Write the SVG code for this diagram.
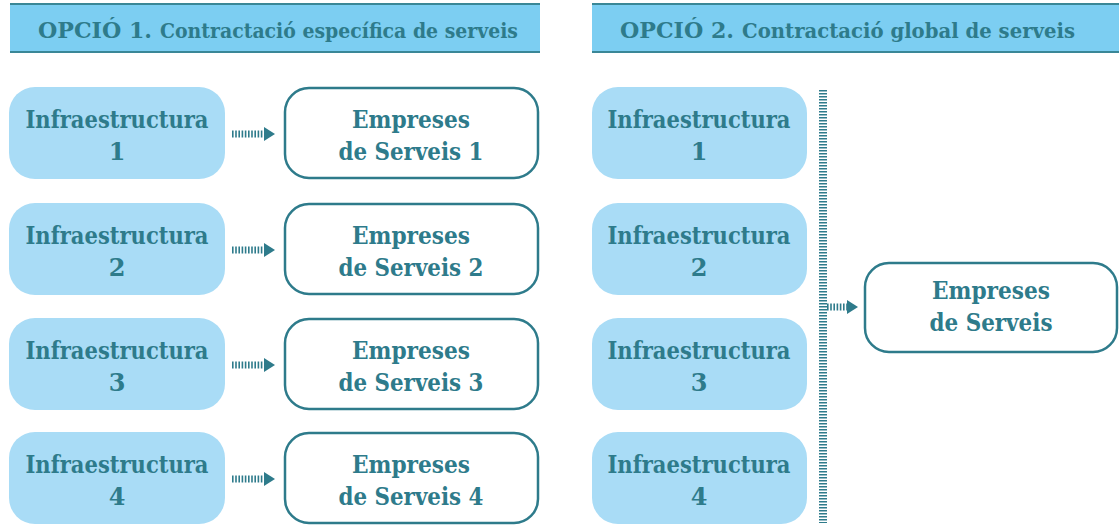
<svg xmlns="http://www.w3.org/2000/svg" width="1119" height="525" viewBox="0 0 1119 525">
<style>
.hdr{fill:#7ccef2;}
.hline{stroke:#3a8797;stroke-width:2;}
.t{font-family:"DejaVu Serif","Liberation Serif",serif;font-weight:bold;fill:#2e7b8b;text-anchor:middle;}
.h{font-family:"DejaVu Serif","Liberation Serif",serif;font-weight:bold;fill:#2e7b8b;}
.lbl{font-size:24px;}
.infra{fill:#a9dcf6;}
.emp{fill:#ffffff;stroke:#2e7b8b;stroke-width:2.5;}
.dots{stroke:#2e7b8b;stroke-width:7;stroke-dasharray:1.6 1.6;fill:none;}
.vdots{stroke:#2e7b8b;stroke-width:8;stroke-dasharray:1.5 1.5;fill:none;}
.head{fill:#2e7b8b;}
</style>
<g id="header1">
<rect class="hdr" x="10" y="4" width="530" height="48"/>
<line class="hline" x1="10" y1="4" x2="540" y2="4"/>
<line class="hline" x1="10" y1="52" x2="540" y2="52"/>
<text class="h" x="38" y="38" font-size="23" textLength="114" lengthAdjust="spacingAndGlyphs">OPCIÓ 1.</text>
<text class="h" x="160" y="38" font-size="19.5" textLength="358" lengthAdjust="spacingAndGlyphs">Contractació específica de serveis</text>
</g>
<g id="header2">
<rect class="hdr" x="592" y="4" width="527" height="48"/>
<line class="hline" x1="592" y1="4" x2="1119" y2="4"/>
<line class="hline" x1="592" y1="52" x2="1119" y2="52"/>
<text class="h" x="620" y="38" font-size="23" textLength="114" lengthAdjust="spacingAndGlyphs">OPCIÓ 2.</text>
<text class="h" x="742" y="38" font-size="19.5" textLength="333" lengthAdjust="spacingAndGlyphs">Contractació global de serveis</text>
</g>
<g id="infra1-1"><rect class="infra" x="9" y="87" width="216" height="92" rx="26"/><text class="t lbl" x="117" y="128" textLength="183" lengthAdjust="spacingAndGlyphs">Infraestructura</text><text class="t lbl" x="117" y="160">1</text></g>
<g id="infra1-2"><rect class="infra" x="9" y="203" width="216" height="92" rx="26"/><text class="t lbl" x="117" y="244" textLength="183" lengthAdjust="spacingAndGlyphs">Infraestructura</text><text class="t lbl" x="117" y="276">2</text></g>
<g id="infra1-3"><rect class="infra" x="9" y="318" width="216" height="92" rx="26"/><text class="t lbl" x="117" y="359" textLength="183" lengthAdjust="spacingAndGlyphs">Infraestructura</text><text class="t lbl" x="117" y="391">3</text></g>
<g id="infra1-4"><rect class="infra" x="9" y="432" width="216" height="92" rx="26"/><text class="t lbl" x="117" y="473" textLength="183" lengthAdjust="spacingAndGlyphs">Infraestructura</text><text class="t lbl" x="117" y="505">4</text></g>
<g id="emp1"><rect class="emp" x="285" y="88" width="253" height="90" rx="24"/><text class="t lbl" x="411" y="128" textLength="118" lengthAdjust="spacingAndGlyphs">Empreses</text><text class="t lbl" x="411" y="160" textLength="145" lengthAdjust="spacingAndGlyphs">de Serveis 1</text></g>
<g id="emp2"><rect class="emp" x="285" y="204" width="253" height="90" rx="24"/><text class="t lbl" x="411" y="244" textLength="118" lengthAdjust="spacingAndGlyphs">Empreses</text><text class="t lbl" x="411" y="276" textLength="145" lengthAdjust="spacingAndGlyphs">de Serveis 2</text></g>
<g id="emp3"><rect class="emp" x="285" y="319" width="253" height="90" rx="24"/><text class="t lbl" x="411" y="359" textLength="118" lengthAdjust="spacingAndGlyphs">Empreses</text><text class="t lbl" x="411" y="391" textLength="145" lengthAdjust="spacingAndGlyphs">de Serveis 3</text></g>
<g id="emp4"><rect class="emp" x="285" y="433" width="253" height="90" rx="24"/><text class="t lbl" x="411" y="473" textLength="118" lengthAdjust="spacingAndGlyphs">Empreses</text><text class="t lbl" x="411" y="505" textLength="145" lengthAdjust="spacingAndGlyphs">de Serveis 4</text></g>
<g id="infra2-1"><rect class="infra" x="592" y="87" width="215" height="92" rx="26"/><text class="t lbl" x="699" y="128" textLength="183" lengthAdjust="spacingAndGlyphs">Infraestructura</text><text class="t lbl" x="699" y="160">1</text></g>
<g id="infra2-2"><rect class="infra" x="592" y="203" width="215" height="92" rx="26"/><text class="t lbl" x="699" y="244" textLength="183" lengthAdjust="spacingAndGlyphs">Infraestructura</text><text class="t lbl" x="699" y="276">2</text></g>
<g id="infra2-3"><rect class="infra" x="592" y="318" width="215" height="92" rx="26"/><text class="t lbl" x="699" y="359" textLength="183" lengthAdjust="spacingAndGlyphs">Infraestructura</text><text class="t lbl" x="699" y="391">3</text></g>
<g id="infra2-4"><rect class="infra" x="592" y="432" width="215" height="92" rx="26"/><text class="t lbl" x="699" y="473" textLength="183" lengthAdjust="spacingAndGlyphs">Infraestructura</text><text class="t lbl" x="699" y="505">4</text></g>
<g id="emp-global"><rect class="emp" x="865" y="263" width="252" height="89" rx="24"/><text class="t lbl" x="991" y="299" textLength="118" lengthAdjust="spacingAndGlyphs">Empreses</text><text class="t lbl" x="991" y="331" textLength="123" lengthAdjust="spacingAndGlyphs">de Serveis</text></g>
<g id="connectors">
<path class="dots" d="M232 134H265"/><path class="head" d="M264 127L275 134L264 141Z"/>
<path class="dots" d="M232 250H265"/><path class="head" d="M264 243L275 250L264 257Z"/>
<path class="dots" d="M232 365H265"/><path class="head" d="M264 358L275 365L264 372Z"/>
<path class="dots" d="M232 479H265"/><path class="head" d="M264 472L275 479L264 486Z"/>
<path class="vdots" d="M823 90V523"/>
<path class="dots" d="M827 307H848"/><path class="head" d="M847 300L858 307L847 314Z"/>
</g>
</svg>
